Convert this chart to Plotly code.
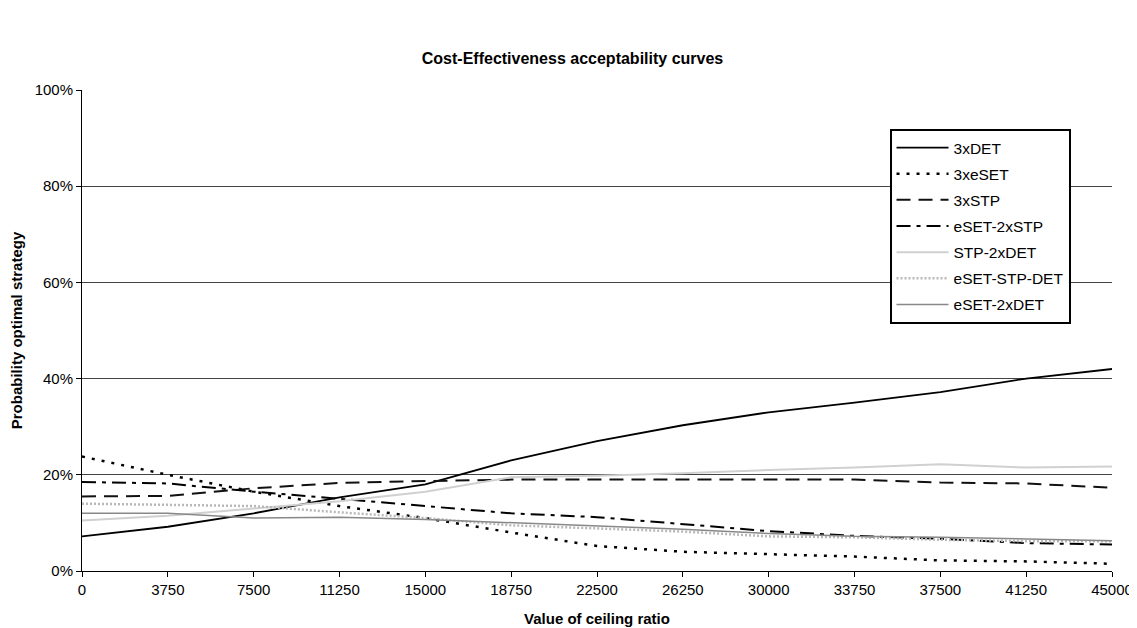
import plotly.graph_objects as go

ceiling = [0, 3750, 7500, 11250, 15000, 18750, 22500, 26250, 30000, 33750, 37500, 41250, 45000]
tick_labels = [str(v) for v in ceiling]

det3 = [0.072, 0.092, 0.120, 0.153, 0.180, 0.230, 0.270, 0.303, 0.330, 0.350, 0.372, 0.400, 0.420]
eset3 = [0.238, 0.200, 0.165, 0.135, 0.110, 0.080, 0.052, 0.040, 0.035, 0.030, 0.022, 0.020, 0.015]
stp3 = [0.155, 0.156, 0.172, 0.183, 0.187, 0.190, 0.190, 0.190, 0.191, 0.190, 0.184, 0.182, 0.173]
eset_2stp = [0.185, 0.182, 0.165, 0.150, 0.135, 0.120, 0.112, 0.098, 0.083, 0.073, 0.067, 0.058, 0.055]
stp_2det = [0.105, 0.115, 0.130, 0.145, 0.165, 0.195, 0.198, 0.203, 0.210, 0.215, 0.222, 0.215, 0.217]
eset_stp_det = [0.140, 0.138, 0.135, 0.122, 0.110, 0.095, 0.088, 0.082, 0.072, 0.070, 0.065, 0.062, 0.062]
eset_2det = [0.120, 0.120, 0.110, 0.112, 0.107, 0.100, 0.093, 0.087, 0.078, 0.072, 0.070, 0.067, 0.063]

series = [
    ("3xDET", det3, "#000000", "solid", 1.8),
    ("3xeSET", eset3, "#000000", "3px,7px", 2.5),
    ("3xSTP", stp3, "#111111", "14px,8px", 2.0),
    ("eSET-2xSTP", eset_2stp, "#000000", "14px,6px,4px,6px", 2.0),
    ("STP-2xDET", stp_2det, "#d0d0d0", "solid", 2.0),
    ("eSET-STP-DET", eset_stp_det, "#b8b8b8", "2px,2px", 2.5),
    ("eSET-2xDET", eset_2det, "#888888", "solid", 1.5),
]

fig = go.Figure()
for name, vals, color, dash, width in series:
    fig.add_trace(go.Scatter(
        x=ceiling, y=vals, mode="lines", name=name, legendgroup=name,
        line=dict(color=color, dash=dash, width=width),
    ))

fig.update_layout(
    width=1129, height=620,
    margin=dict(l=74, r=25, t=82, b=57),
    paper_bgcolor="white", plot_bgcolor="white",
    font=dict(family="Liberation Sans, Arial, sans-serif", size=15, color="#000000"),
    title=dict(text="<b>Cost-Effectiveness acceptability curves</b>", x=0.5, xanchor="center",
               yref="container", y=0.919, yanchor="middle", font=dict(size=16)),
    showlegend=True,
    legend=dict(x=0.784, y=0.919, xanchor="left", yanchor="top",
                bordercolor="#000000", borderwidth=2, bgcolor="white",
                font=dict(size=15.5), tracegroupgap=3, itemwidth=52,
                traceorder="grouped"),
    xaxis=dict(
        range=[0, 45000], tickvals=ceiling, ticktext=tick_labels,
        automargin=False, ticklabeloverflow="allow",
        showgrid=False, zeroline=False, showline=True, linecolor="#000000", linewidth=1,
        ticks="outside", ticklen=5, tickcolor="#000000", tickfont=dict(size=15),
        title=dict(text="<b>Value of ceiling ratio</b>", font=dict(size=15), standoff=16),
    ),
    yaxis=dict(
        range=[0, 1], tickvals=[0, 0.2, 0.4, 0.6, 0.8, 1.0], tickformat=".0%",
        automargin=False,
        showgrid=True, gridcolor="#444444", gridwidth=1, zeroline=False,
        showline=True, linecolor="#000000", linewidth=1,
        ticks="outside", ticklen=5, tickcolor="#000000", tickfont=dict(size=15),
        title=dict(text="<b>Probability optimal strategy</b>", font=dict(size=15), standoff=9),
    ),
)

fig.write_html("out.html")
